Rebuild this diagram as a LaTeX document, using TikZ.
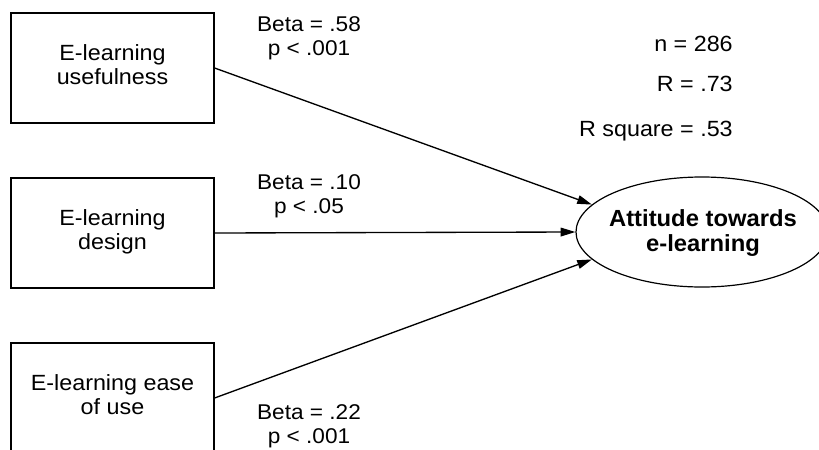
\documentclass[tikz,border=0pt]{standalone}
\usepackage{fontspec}
\setmainfont{Liberation Sans}
\usepackage{graphicx}
\usetikzlibrary{shapes.geometric,arrows.meta}
\newcommand\stx[1]{\scalebox{1.06}[1]{#1}}
\newcommand\twol[2]{\begin{tabular}{@{}c@{}}#1\\#2\end{tabular}}
\newcommand\twot[2]{\begin{tabular}[t]{@{}c@{}}#1\\#2\end{tabular}}
\begin{document}
\begin{tikzpicture}[x=0.75pt,y=-0.75pt,
  box/.style={draw, line width=0.9pt, rectangle, minimum width=152.25pt, minimum height=82.5pt, inner sep=0pt, font=\fontsize{16.5}{18.2}\selectfont},
  lbl/.style={anchor=base, inner sep=0pt, font=\fontsize{16}{18.2}\selectfont},
  stat/.style={anchor=base east, inner sep=0pt, font=\fontsize{16.5}{18}\selectfont},
  conn/.style={line width=1pt, -{Triangle[length=11pt,width=6.5pt]}}]
\clip (0,0) rectangle (819,450);
\node[box] (b1) at (112.5,68) {\stx{\twol{E-learning}{usefulness}}};
\node[box] (b2) at (112.5,233) {\stx{\twol{E-learning}{design}}};
\node[box] (b3) at (112.5,398) {\stx{\twol{E-learning ease}{of use}}};
\node[draw, ellipse, line width=0.9pt, minimum width=189pt, minimum height=82.5pt, inner sep=0pt] (att) at (702,232) {};
\node[anchor=base, inner sep=0pt, font=\fontsize{17.5}{18.75}\selectfont\bfseries] (attl) at (703,226.7) {\scalebox{1.02}[1]{\twot{Attitude towards}{e-learning}}};
\node[lbl] (l1) at (309,31.7) {\stx{\twot{Beta = .58}{p < .001}}};
\node[lbl] (l2) at (309,189.5) {\stx{\twot{Beta = .10}{p < .05}}};
\node[lbl] (l3) at (309,419.3) {\stx{\twot{Beta = .22}{p < .001}}};
\node[stat] (sn) at (733,51.5) {\stx{n = 286}};
\node[stat] (sr) at (733,91) {\stx{R = .73}};
\node[stat] (sr2) at (733,136.7) {\stx{R square = .53}};
\draw[conn] (b1.east) -- (att.166);
\draw[conn] (b2.east) -- (att.west);
\draw[conn] (b3.east) -- (att.194);
\end{tikzpicture}
\end{document}
